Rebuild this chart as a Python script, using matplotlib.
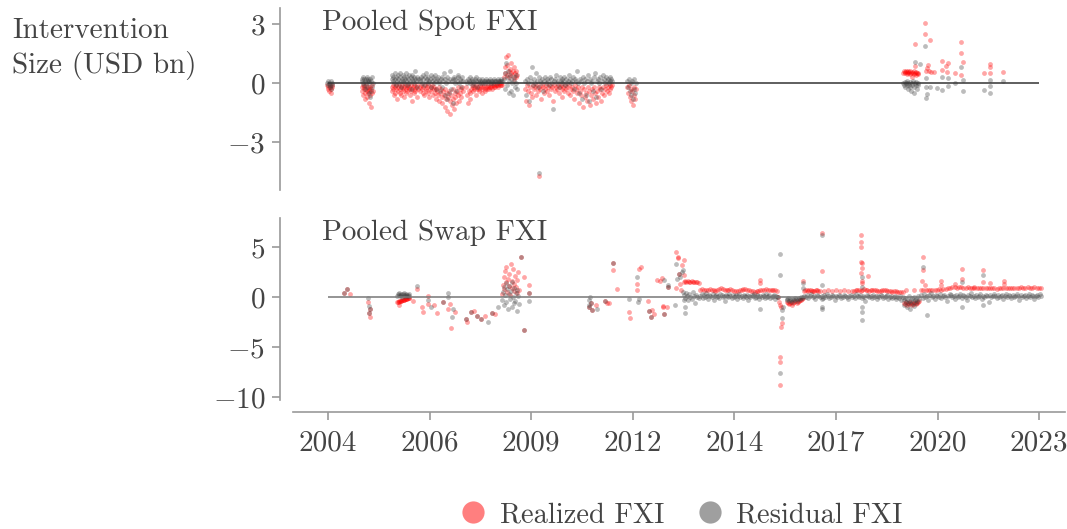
import numpy as np
import matplotlib
matplotlib.use("Agg")
import matplotlib.pyplot as plt
from matplotlib.lines import Line2D

plt.rcParams['font.family'] = 'cmr10'
plt.rcParams['mathtext.fontset'] = 'cm'
plt.rcParams['axes.formatter.use_mathtext'] = True

# sample period (decimal years)
sample_start = 2004.0
sample_end = 2023.0

# ---- pooled spot FXI: dense stretches (start, end, values in time order)
spot_start = [2003.98, 2004.90, 2005.70, 2006.45, 2007.70, 2008.70, 2009.27, 2012.00, 2019.37]
spot_end = [2004.12, 2005.20, 2006.40, 2007.60, 2008.65, 2009.05, 2011.60, 2012.23, 2019.77]
spot_real = [
    "-0.1 -0.3 -0.2 -0.4 -0.1 -0.2 -0.5 -0.3 -0.1 -0.2",
    "-0.2 -0.4 -0.1 -0.6 -0.3 -0.2 -0.5 -0.8 -0.3 -0.1 -0.4 -0.7 -0.2 -0.5 -0.3 -1.0 -0.4 -0.6 -0.2 -1.2 -0.3 -0.5 -0.1 -0.4",
    "-0.2 -0.4 -0.1 -0.3 -0.6 -0.2 -0.5 -0.1 -0.3 -0.8 -0.2 -0.4 -0.1 -0.5 -0.3 -0.2 -0.6 -0.1 -0.4 -0.3 -0.2 -0.7 "
    "-0.1 -0.3 -0.5 -0.2 -0.4 -0.1 -0.3 -0.2 -0.6 -0.4 -0.1 -0.3 -0.9 -0.2 -0.5 -0.1 -0.3 -0.4 -0.2 -0.7 -0.1 -0.3",
    "-0.2 -0.4 -0.1 -0.3 -0.5 -0.2 -0.6 -0.1 -0.3 -0.4 -0.2 -0.5 -0.1 -0.7 -0.3 -0.2 -0.4 -0.1 -0.6 -0.3 -0.2 -0.5 "
    "-0.8 -0.3 -0.4 -0.6 -0.2 -0.9 -0.5 -0.3 -0.7 -1.0 -0.4 -0.6 -1.2 -0.3 -0.8 -0.5 -1.4 -0.7 -0.4 -1.6 -0.9 -0.6 "
    "-1.1 -0.3 -0.8 -1.3 -0.5 -0.7 -1.0 -0.4 -0.6 -0.2 -0.9 -0.5 -0.3 -0.7 -0.2 -0.4",
    "-0.2 -0.6 -1.0 -0.4 -0.8 -0.5 -0.3 -0.1 -0.2 -0.4 -0.3 -0.2 -0.6 -0.1 -0.3 -0.2 -0.4 -0.3 -0.1 -0.2 -0.5 -0.3 "
    "-0.2 -0.1 -0.3 -0.4 -0.2 -0.3 -0.1 -0.2 -0.3 -0.2 -0.1 -0.2 -0.3 -0.1 -0.2 -0.1 -0.2 -0.1 -0.1 -0.2 -0.1 0.0 "
    "-0.1 -0.1 0.0 -0.1",
    "0.3 0.8 0.5 1.3 0.4 0.9 1.4 0.6 0.3 0.7 0.5 1.0 0.4 0.6 0.2 0.8 0.5 0.3 0.6 0.4",
    "-0.3 -0.9 -0.1 -0.4 -1.1 -0.2 -0.5 -0.7 -0.1 -0.3 -0.2 -0.6 -0.1 -0.4 -0.2 -0.3 -0.8 -0.1 -0.2 -0.5 -0.3 -0.1 "
    "-0.4 -0.2 -0.6 -0.1 -0.3 -0.2 -0.9 -0.1 -0.4 -0.2 -0.3 -0.1 -0.5 -0.2 -0.1 -0.3 -0.7 -0.2 -0.4 -0.1 -0.3 -0.2 "
    "-0.5 -0.1 -0.6 -0.3 -0.2 -0.4 -0.8 -0.1 -0.3 -0.5 -0.2 -1.0 -0.4 -0.6 -0.2 -1.2 -0.3 -0.7 -0.5 -0.9 -0.2 -0.4 "
    "-1.1 -0.6 -0.3 -0.8 -0.2 -0.5 -1.0 -0.4 -0.7 -0.2 -0.3 -0.9 -0.5 -0.2 -0.6 -0.3 -0.1 -0.4 -0.2 -0.5 -0.1 -0.3 "
    "-0.2 -0.1",
    "-0.2 -0.5 -0.1 -0.7 -0.3 -0.9 -0.4 -1.1 -0.2 -0.6 -0.8 -0.3",
    "0.5 0.6 0.55 0.5 0.6 0.45 0.55 0.6 0.5 0.55 0.45 0.6 0.5 0.55 0.3 0.5 0.6 0.45 0.5 0.55 0.4 0.5 0.45 0.5",
]
spot_resid = [
    "0.0 -0.1 0.1 0.0 -0.2 -0.1 0.1 -0.3 0.0 -0.1",
    "0.1 0.2 0.0 0.3 -0.1 0.2 0.1 -0.3 0.2 0.0 0.3 -0.2 0.1 0.2 -0.5 0.1 0.0 -0.7 0.2 -0.4 0.1 0.3 -0.2 0.0",
    "0.2 0.4 0.1 0.3 0.0 0.5 0.2 -0.1 0.3 0.1 0.4 0.2 0.0 0.3 0.5 0.1 -0.2 0.2 0.4 0.1 0.3 0.0 0.2 0.5 0.1 -0.1 "
    "0.3 0.2 0.4 0.0 0.1 0.3 -0.3 0.2 0.4 0.1 0.0 0.3 0.2 0.6 0.1 -0.2 0.3 0.2",
    "0.2 0.1 0.3 0.0 0.4 0.2 -0.1 0.3 0.1 0.5 0.2 0.0 0.3 0.1 0.2 0.4 -0.2 0.1 0.3 0.2 0.0 0.4 0.1 -0.3 0.2 0.3 "
    "0.0 0.1 -0.4 0.2 0.3 -0.2 0.1 0.5 -0.6 0.2 0.0 -0.8 0.3 0.1 -0.5 0.2 0.6 -0.3 0.1 0.2 -1.0 0.3 0.0 0.2 -0.4 "
    "0.1 0.3 0.4 0.0 0.2 0.1 -0.2 0.3 0.1",
    "0.1 0.0 0.2 0.1 0.3 0.0 0.1 0.2 -0.1 0.1 0.0 0.2 0.1 0.3 -0.2 0.1 0.0 0.2 0.1 0.0 0.1 0.2 0.0 0.1 0.1 0.0 "
    "0.2 0.1 0.0 0.1 0.1 0.2 0.0 0.1 0.1 0.0 0.1 0.2 0.1 0.1 0.0 0.1 0.2 0.1 0.1 0.2 0.1 0.1",
    "0.2 -0.3 0.5 1.0 -0.1 0.3 0.6 -0.5 0.1 0.4 -0.4 0.2 0.0 -0.6 0.3 0.1 -0.2 0.4 0.0 -0.3",
    "0.1 -0.6 0.2 0.0 -0.9 0.3 0.1 0.8 -0.1 0.2 0.0 0.5 0.1 -0.2 0.3 0.1 0.0 0.2 -0.4 0.1 0.3 0.0 0.2 0.1 -0.1 "
    "0.3 0.2 0.0 -1.3 0.1 0.2 0.4 0.0 0.1 -0.2 0.3 0.1 0.0 0.2 0.1 0.3 -0.1 0.2 0.0 0.1 0.4 0.2 0.0 0.1 0.3 -0.3 "
    "0.2 0.1 0.6 0.0 -0.5 0.2 0.1 -0.8 0.3 0.0 0.2 -0.6 0.1 0.4 -0.9 0.2 0.0 0.1 -0.4 0.3 0.5 -0.7 0.1 0.2 0.0 "
    "0.3 -0.3 0.1 0.4 0.2 0.0 0.3 0.1 0.2 0.0 0.1 0.3 0.2 0.1",
    "0.1 -0.2 0.2 -0.4 0.0 -0.6 0.1 -0.8 -0.3 0.2 -0.5 0.0",
    "0.0 -0.1 0.05 -0.2 0.0 -0.1 0.1 -0.3 0.0 -0.1 -0.2 0.05 -0.4 0.0 -0.1 0.1 -0.2 -0.5 0.0 -0.1 0.05 -0.3 0.0 -0.1",
]
# ---- pooled spot FXI: single observations
spot_pt_real_date = [2009.65, 2019.69, 2019.69, 2019.95, 2019.95, 2020.09, 2019.99, 2020.00, 2020.02, 2020.05,
                     2020.12, 2020.20, 2020.40, 2020.40, 2020.51, 2020.57, 2020.55, 2020.76, 2020.92, 2020.92,
                     2020.96, 2020.92, 2021.53, 2021.70, 2021.70, 2021.70, 2022.04]
spot_pt_real = [-4.75, 2.0, 0.88, 3.03, 2.5, 2.2, 0.6, 0.75, 0.9, 0.6,
                0.58, 0.58, 1.14, 0.66, 0.86, 1.0, 0.56, 0.5, 2.1, 1.55,
                1.06, 0.4, 0.5, 0.95, 0.83, 0.5, 0.58]
spot_pt_resid_date = [2009.65, 2019.69, 2019.95, 2019.82, 2019.99, 2019.99, 2019.99, 2020.00, 2020.09, 2020.27,
                      2020.40, 2020.40, 2020.57, 2020.57, 2020.76, 2020.92, 2020.96, 2020.96, 2021.53, 2021.70,
                      2021.70, 2021.70, 2022.04]
spot_pt_resid = [-4.55, 1.05, 1.9, 0.97, 0.25, -0.2, -0.75, -0.58, -0.2, -0.25,
                 0.3, -0.34, 0.25, -0.17, 0.0, 0.83, 0.17, -0.42, -0.34, 0.17,
                 -0.14, -0.5, 0.08]

# ---- pooled swap FXI: dense stretches
swap_start = [2005.85, 2008.65, 2013.50, 2013.95, 2016.25, 2016.72, 2017.15, 2018.05, 2019.38, 2019.85]
swap_end = [2006.17, 2009.10, 2013.90, 2016.00, 2016.70, 2017.10, 2018.00, 2019.35, 2019.78, 2023.05]
swap_real = [
    "-0.55 -0.5 -0.5 -0.45 -0.45 -0.4 -0.4 -0.35 -0.35 -0.3 -0.3 -0.25 -0.25 -0.2 -0.2 -0.15 -0.15 -0.1",
    "0.3 1.2 2.0 0.8 2.6 1.5 3.0 0.5 1.8 2.3 1.1 0.2 3.3 1.6 0.9 2.8 1.3 0.6 2.1 1.0 0.4 1.7 2.5 0.7",
    "1.5 1.55 1.5 1.6 1.5 1.45 1.55 1.5 1.5 1.45 1.5 1.4",
    "0.7 0.75 0.7 0.65 0.7 0.8 0.7 0.65 0.6 0.7 0.75 0.85 0.8 0.7 0.65 0.7 0.75 0.7 0.6 0.55 0.6 0.65 0.7 0.75 "
    "0.8 0.7 0.65 0.6 0.55 0.5 0.55 0.6 0.65 0.7 0.7 0.75 0.7 0.7 0.7 0.65 0.7 0.6",
    "-0.5 -0.6 -0.7 -0.6 -0.5 -0.8 -0.6 -0.5 -0.4 -0.6 -0.5 -0.4 -0.3 -0.3 -0.2 -0.1",
    "0.6 0.65 0.7 0.6 0.65 0.7 0.6 0.55 0.6 0.65 0.7 0.6",
    "0.6 0.55 0.65 0.6 0.7 0.6 0.65 0.55 0.6",
    "0.6 0.65 0.7 0.65 0.6 0.7 0.75 0.7 0.65 0.6 0.65 0.7 0.7 0.65 0.6 0.55 0.6 0.65 0.7 0.65 0.6 0.6 0.55 0.5 "
    "0.55 0.6 0.5 0.45 0.5 0.45",
    "-0.6 -0.7 -0.5 -0.8 -0.6 -0.7 -0.5 -0.6 -0.8 -0.7 -0.6 -0.5 -0.7 -0.6 -0.5 -0.4",
    "0.65 0.7 0.65 0.7 0.7 0.65 0.7 0.7 0.75 0.7 0.75 0.8 0.85 0.9 0.95 0.95 0.9 0.95 0.95 0.9 0.9 0.95 0.9 0.9 "
    "0.85 0.9 0.9 0.85 0.9 0.85 0.85 0.9 0.85 0.85 0.8 0.85 0.85 0.9 0.85 0.85 0.9 0.9 0.85 0.9 0.9 0.95 0.9 0.9 "
    "0.95 0.9 0.9 0.95 0.9 0.9 0.9",
]
swap_resid = [
    "0.1 0.3 0.2 0.4 0.1 0.3 0.2 0.0 0.3 0.2 0.4 0.1 0.2 0.3 0.1 0.2 0.3 0.1",
    "-0.3 0.5 1.0 -0.8 0.2 1.4 -0.5 0.8 -1.2 0.3 1.1 -0.2 0.6 -1.0 1.5 0.0 -0.6 0.9 -0.4 0.4 -1.4 0.7 0.1 -0.7",
    "0.2 -0.1 0.4 0.1 -0.3 0.3 0.0 -0.2 0.5 0.1 -0.6 0.2 0.0 -0.1",
    "0.1 0.3 -0.1 0.2 0.0 0.4 0.1 -0.2 0.2 0.1 0.0 0.3 -0.3 0.1 0.2 0.0 0.1 -0.1 0.3 0.2 0.0 0.1 -0.4 0.2 0.1 "
    "0.0 0.3 0.1 -0.1 0.2 0.0 0.1 0.2 -0.2 0.1 0.3 0.0 0.1 -0.1 0.2 0.1 0.0 0.2 -0.3 0.1 0.0 0.2 0.1 0.3 -0.1 "
    "0.0 0.2 0.1 -0.2 0.1 0.0 0.2 0.1 -0.1 0.3 0.0 0.1 0.2 -0.1 0.0 0.1 0.2 -0.2 0.1 0.0",
    "-0.2 -0.3 -0.1 -0.4 -0.2 -0.3 -0.5 -0.2 -0.3 -0.1 -0.2 -0.4 -0.2 -0.1 -0.2 0.0 -0.1 0.0",
    "0.1 0.0 0.2 -0.1 0.1 0.3 0.0 0.1 -0.2 0.2 0.1",
    "0.0 0.1 -0.1 0.2 0.0 0.3 0.1 -0.1 0.0 0.2 0.1 -0.3 0.1 0.0 0.2 0.1 -0.1 0.0 0.2 0.1 0.0 -0.2 0.1 0.2 0.0",
    "0.1 -0.1 0.3 0.1 0.0 0.2 -0.1 0.1 0.0 -0.4 0.2 0.1 0.0 0.1 -0.1 0.2 0.0 0.1 -0.2 0.1 0.0 0.2 0.1 -0.1 0.0 "
    "0.1 0.2 -0.2 0.0 0.1 -0.1 0.0 0.1 -0.2 0.0 -0.1 0.1 -0.3 0.0",
    "-0.3 -0.8 -0.1 -0.5 -1.0 -0.2 -0.6 0.1 -0.4 -1.2 -0.3 -0.7 -0.1 -0.5 -0.9 0.0 -0.3 -0.6 -0.2 -0.4 0.1 -0.2",
    "0.2 -0.1 0.3 0.0 0.1 -0.3 0.2 0.4 0.0 0.1 -0.2 0.2 0.1 0.0 0.3 -0.1 0.1 0.2 0.0 -0.4 0.1 0.3 0.2 0.0 0.1 "
    "-0.2 0.2 0.0 0.1 0.3 -0.1 0.2 0.1 0.0 -0.3 0.2 0.1 0.4 0.0 0.1 -0.1 0.2 0.0 0.1 0.3 -0.2 0.1 0.0 0.2 0.1 "
    "-0.5 0.2 0.0 0.1 0.3 0.1 -0.1 0.2 0.0 0.1 0.2 -0.2 0.1 0.3 0.0 0.2 0.1 -0.1 0.2 0.0 0.1 0.3 0.1 -0.3 0.2 "
    "0.0 0.1 0.2 -0.1 0.1 0.3 0.0 0.2 0.1 -0.2 0.1 0.2 0.0 0.3 0.1",
]
# ---- pooled swap FXI: single observations
swap_pt_real_date = [
    2004.43, 2004.52, 2004.59, 2005.08, 2005.12, 2005.10, 2005.11, 2005.90, 2006.26, 2006.37,
    2006.50, 2006.55, 2006.68, 2006.68, 2006.82, 2006.90, 2007.07, 2007.27, 2007.20, 2007.28,
    2007.39, 2007.68, 2007.72, 2007.83, 2007.89, 2007.97, 2008.10, 2008.19, 2008.37, 2008.46,
    2009.16, 2009.24, 2009.24, 2009.38, 2009.38, 2010.96, 2011.02, 2011.06, 2011.17, 2011.40,
    2011.45, 2011.50, 2011.62, 2011.62, 2011.71, 2012.05, 2012.08, 2012.25, 2012.25, 2012.32,
    2012.35, 2012.54, 2012.58, 2012.62, 2012.66, 2012.70, 2012.78, 2012.87, 2012.92, 2012.94,
    2012.96, 2012.98, 2013.05, 2013.09, 2013.30, 2013.34, 2013.36, 2013.38, 2013.40, 2013.45,
    2013.50, 2013.52, 2013.30, 2013.42, 2015.55, 2015.55, 2016.03, 2016.05, 2016.08, 2016.10,
    2016.12, 2016.10, 2016.08, 2016.08, 2016.08, 2016.68, 2017.19, 2017.19, 2018.25, 2018.25,
    2018.25, 2018.25, 2018.26, 2018.26, 2018.25, 2018.26, 2018.27, 2018.44, 2019.45, 2019.65,
    2019.89, 2019.91, 2019.88, 2019.95, 2020.37, 2020.37, 2020.75, 2020.93, 2020.93, 2021.25,
    2021.51, 2021.51, 2021.68, 2022.05, 2022.05]
swap_pt_real = [
    0.37, 0.77, 0.3, -0.47, -1.23, -1.57, -2.03, -0.8, -0.37, 0.77,
    -1.03, -1.47, 0.1, -0.7, -0.8, -1.57, -0.47, -0.67, -1.17, -3.13,
    -1.5, -2.23, -2.47, -1.5, -1.4, -1.93, -2.17, -1.93, -1.57, -1.7,
    4.03, -3.3, 2.0, 1.17, 0.37, -0.97, -0.63, -1.3, -0.8, -0.37,
    -0.57, -0.63, 2.7, 3.37, 0.77, -1.47, -2.07, 0.67, 1.33, 2.83,
    3.0, -0.4, -1.4, -2.0, -1.33, -1.67, 1.73, 1.6, 1.87, -0.87,
    -0.97, -1.7, -0.97, 1.03, 4.53, 4.0, 3.87, 2.33, 1.33, 3.17,
    3.67, 2.17, 0.87, 0.67, 1.7, 1.43, 0.0, -0.5, -0.83, -1.0,
    -2.63, -2.97, -5.97, -6.47, -8.8, 1.6, 6.43, 2.6, 6.2, 5.5,
    4.97, 3.53, 3.37, 2.87, 2.37, 1.63, 1.43, 2.1, 0.7, 0.7,
    2.67, 4.0, 1.63, 1.2, 1.63, 1.2, 1.3, 2.77, 1.83, 1.03,
    2.73, 1.5, 1.43, 1.63, 1.3]
swap_pt_resid_date = [
    2004.43, 2004.52, 2005.08, 2005.10, 2005.12, 2005.10, 2006.37, 2006.68, 2006.75, 2007.07,
    2007.21, 2007.21, 2007.35, 2007.30, 2007.68, 2007.83, 2007.97, 2008.10, 2008.28, 2008.37,
    2008.55, 2009.16, 2009.24, 2009.38, 2009.38, 2010.96, 2010.96, 2010.96, 2011.02, 2011.00,
    2011.06, 2011.20, 2011.40, 2011.62, 2012.03, 2012.25, 2012.30, 2012.28, 2012.58, 2012.62,
    2012.98, 2012.99, 2013.09, 2013.09, 2013.30, 2013.33, 2013.38, 2013.48, 2013.40, 2013.45,
    2013.48, 2013.50, 2013.28, 2013.55, 2013.54, 2015.55, 2016.03, 2016.12, 2016.08, 2016.08,
    2016.08, 2016.12, 2016.15, 2016.68, 2016.70, 2017.19, 2017.19, 2017.19, 2017.19, 2017.19,
    2018.26, 2018.26, 2018.26, 2018.26, 2018.26, 2019.91, 2020.00, 2020.93, 2020.93, 2021.51,
    2021.51]
swap_pt_resid = [
    0.37, 0.77, -0.13, -0.9, -1.23, -1.57, 1.13, -0.3, -1.03, -0.47,
    0.4, 0.0, -1.17, -2.0, -2.23, -1.5, -1.93, -2.17, -2.47, -1.57,
    -1.03, 4.03, -3.3, 0.37, -0.37, -0.3, -0.8, -0.97, -0.63, 0.0,
    -1.3, -1.23, -0.37, 3.37, -0.2, 2.0, -0.17, -0.5, -1.4, -2.0,
    -1.7, 1.73, 1.2, 1.03, 3.33, 1.83, 2.33, 2.67, 2.0, 2.5,
    0.5, -0.3, -0.8, -0.97, -1.63, -1.2, 0.0, -2.13, -7.57, 4.33,
    2.17, -1.33, -1.0, 1.4, 0.9, 6.2, 1.2, -1.0, -1.17, -0.2,
    2.03, 1.03, -1.5, -2.33, -1.0, 3.0, -1.77, 1.5, -0.97, 2.17,
    -0.8]

RED = 'red'
GREY = '#404040'
TXT = '#444444'
SPINE = '#999999'
FS = 21


def build(starts, ends, strings, pt_dates, pt_vals):
    xs, ys = [np.array(pt_dates)], [np.array(pt_vals)]
    for a, b, s in zip(starts, ends, strings):
        v = np.array(s.split(), dtype=float)
        xs.append(np.linspace(a, b, len(v)))
        ys.append(v)
    return np.concatenate(xs), np.concatenate(ys)


fig = plt.figure(figsize=(10.67, 5.29), dpi=100)
ax1 = fig.add_axes([0.2746, 0.6408, 0.7235, 0.344])
ax2 = fig.add_axes([0.2746, 0.2439, 0.7235, 0.344])

panels = [
    (ax1, 'Pooled Spot FXI', spot_start, spot_end, spot_real, spot_resid,
     spot_pt_real_date, spot_pt_real, spot_pt_resid_date, spot_pt_resid, [3, 0, -3], (-5.44, 3.81), '#333333'),
    (ax2, 'Pooled Swap FXI', swap_start, swap_end, swap_real, swap_resid,
     swap_pt_real_date, swap_pt_real, swap_pt_resid_date, swap_pt_resid, [5, 0, -5, -10], (-10.3, 7.9), '#777777'),
]

for ax, title, st, en, real, resid, prd, prv, psd, psv, yt, ylim, zc in panels:
    xr, yr = build(st, en, real, prd, prv)
    xs, ys = build(st, en, resid, psd, psv)
    ax.scatter(xr, yr, s=12, color=RED, alpha=0.35, linewidths=0, zorder=2)
    ax.scatter(xs, ys, s=12, color=GREY, alpha=0.35, linewidths=0, zorder=2)
    ax.hlines(0, sample_start, sample_end, color=zc, lw=1.1, zorder=3)
    ax.set_xlim(2003.065, 2023.69)
    ax.set_ylim(*ylim)
    ax.set_yticks(yt)
    ax.text(0.0376, 0.918, title, transform=ax.transAxes, fontsize=FS, color=TXT, va='center')
    for side in ['top', 'right']:
        ax.spines[side].set_visible(False)
    ax.spines['left'].set_position(('outward', 9))
    ax.spines['left'].set_color(SPINE)
    ax.spines['left'].set_linewidth(1.2)
    ax.tick_params(axis='y', colors=SPINE, labelcolor=TXT, labelsize=FS, length=6, width=1.2, pad=5)

ax1.spines['bottom'].set_visible(False)
ax1.tick_params(axis='x', bottom=False, labelbottom=False)

xt = np.linspace(sample_start, sample_end, 8)
ax2.set_xticks(xt)
ax2.set_xticklabels([str(int(t)) for t in xt])
ax2.spines['bottom'].set_position(('outward', 9))
ax2.spines['bottom'].set_color(SPINE)
ax2.spines['bottom'].set_linewidth(1.2)
ax2.tick_params(axis='x', colors=SPINE, labelcolor=TXT, labelsize=FS, length=6, width=1.2, pad=7)

fig.text(12 / 1067, 1 - 49 / 529, 'Intervention\nSize (USD bn)', ha='left', va='center',
         fontsize=FS, color=TXT, linespacing=1.3)

handles = [
    Line2D([], [], marker='o', ls='', color=RED, alpha=0.5, markersize=16, markeredgewidth=0),
    Line2D([], [], marker='o', ls='', color=GREY, alpha=0.5, markersize=16, markeredgewidth=0),
]
fig.legend(handles, ['Realized FXI', 'Residual FXI'], loc='center', bbox_to_anchor=(681 / 1067, 14 / 529),
           ncol=2, frameon=False, fontsize=20.5, labelcolor=TXT, handlelength=1.0,
           handletextpad=0.43, columnspacing=1.1, borderpad=0, borderaxespad=0)

fig.savefig('out.png', dpi=100)
